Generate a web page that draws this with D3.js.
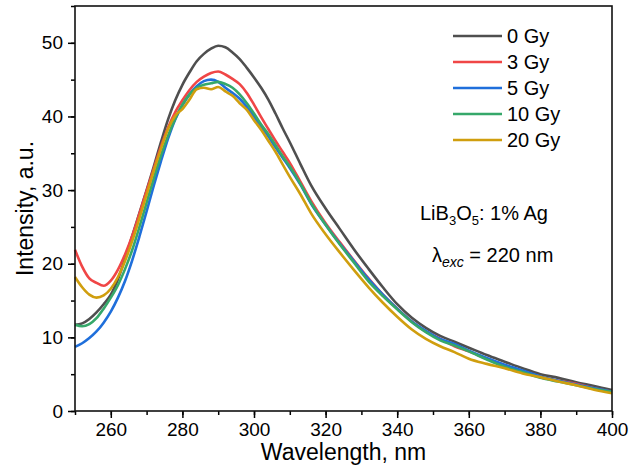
<!DOCTYPE html>
<html lang="en">
<head>
    <meta charset="UTF-8">
    <title>LiB3O5: 1% Ag emission spectra</title>
    <script src="https://d3js.org/d3.v7.min.js"></script>
    <style>
        body { margin: 0; background: #fff; }
        svg text { font-family: "Liberation Sans", Arial, sans-serif; fill: #000; }
    </style>
</head>
<body>
    <div id="chart"></div>
    <script>

// wavelength grid, nm
const wavelengths = [250, 252, 254, 256, 258, 260, 262, 264, 266, 268, 270, 272, 274, 276, 278, 280, 282, 284, 286, 288, 290, 292, 294, 296, 298, 300, 302, 304, 306, 308, 310, 313, 316, 320, 324, 328, 332, 336, 340, 344, 348, 352, 356, 360, 365, 370, 375, 380, 385, 390, 395, 400];

// intensity, a.u.
const gy0  = [11.7, 11.9, 12.5, 13.4, 14.5, 15.8, 17.9, 20.7, 23.8, 26.9, 30.0, 33.2, 36.5, 39.6, 42.2, 44.3, 46.0, 47.5, 48.5, 49.2, 49.6, 49.4, 48.7, 47.8, 46.6, 45.3, 43.9, 42.3, 40.4, 38.4, 36.5, 33.5, 30.6, 27.5, 24.7, 21.9, 19.3, 16.8, 14.5, 12.7, 11.3, 10.2, 9.4, 8.6, 7.6, 6.7, 5.8, 5.0, 4.5, 3.9, 3.4, 2.85];
const gy3  = [21.9, 19.6, 18.0, 17.4, 17.0, 17.7, 19.2, 21.3, 23.8, 26.8, 29.9, 32.9, 35.9, 38.5, 40.6, 42.2, 43.6, 44.7, 45.4, 45.9, 46.1, 45.7, 45.1, 44.4, 43.2, 41.6, 39.9, 38.3, 36.7, 35.2, 33.7, 31.1, 28.5, 25.5, 22.9, 20.4, 18.0, 15.8, 13.9, 12.2, 10.8, 9.8, 8.8, 8.1, 7.1, 6.2, 5.4, 4.6, 4.1, 3.7, 3.1, 2.6];
const gy5  = [8.7, 9.2, 9.9, 10.8, 12.0, 13.5, 15.4, 17.7, 20.5, 23.7, 27.1, 30.6, 33.9, 37.0, 39.6, 41.5, 43.0, 44.1, 44.8, 45.0, 44.7, 43.9, 43.2, 42.4, 41.3, 40.0, 38.6, 37.3, 35.8, 34.4, 33.0, 30.7, 28.1, 25.3, 22.7, 20.3, 17.9, 15.8, 13.9, 12.2, 10.9, 9.8, 9.1, 8.2, 7.2, 6.3, 5.5, 4.7, 4.1, 3.6, 3.1, 2.6];
const gy10 = [11.7, 11.5, 11.8, 12.6, 13.9, 15.4, 17.1, 19.3, 21.9, 25.0, 28.3, 31.6, 34.7, 37.4, 39.7, 41.6, 43.0, 43.9, 44.3, 44.5, 44.7, 44.4, 43.9, 43.0, 41.8, 40.4, 38.9, 37.6, 36.1, 34.6, 33.2, 30.8, 28.2, 25.3, 22.6, 20.1, 17.6, 15.6, 13.8, 12.1, 10.7, 9.6, 8.9, 8.1, 7.0, 6.0, 5.3, 4.5, 4.0, 3.5, 3.0, 2.6];
const gy20 = [18.2, 16.8, 15.8, 15.4, 15.7, 16.6, 18.2, 20.4, 23.1, 26.2, 29.4, 32.6, 35.6, 38.3, 40.1, 41.0, 42.3, 43.7, 43.9, 43.7, 44.0, 43.4, 42.8, 41.8, 40.9, 39.5, 38.2, 36.7, 35.2, 33.5, 31.8, 29.4, 26.8, 24.0, 21.5, 19.1, 16.8, 14.7, 12.8, 11.1, 9.8, 8.8, 8.0, 7.1, 6.4, 5.8, 5.1, 4.6, 4.0, 3.5, 2.9, 2.4];

const seriesNames  = ["0 Gy", "3 Gy", "5 Gy", "10 Gy", "20 Gy"];
const seriesValues = [gy0, gy3, gy5, gy10, gy20];
const seriesColors = ["#4f4f4f", "#f04646", "#1f6fdb", "#36a86a", "#d09e0e"];

const xTicks = [260, 280, 300, 320, 340, 360, 380, 400];
const yTicks = [0, 10, 20, 30, 40, 50];

const width = 629, height = 470;
const margin = { top: 6, right: 17, bottom: 59, left: 75 };

const svg = d3.select("#chart").append("svg")
    .attr("width", width)
    .attr("height", height);

const x = d3.scaleLinear().domain([250, 400]).range([margin.left, width - margin.right]);
const y = d3.scaleLinear().domain([0, 55]).range([height - margin.bottom, margin.top]);

// minor ticks
svg.append("g")
    .attr("transform", `translate(0,${height - margin.bottom})`)
    .call(d3.axisBottom(x).tickValues(d3.range(250, 401, 10)).tickSize(4).tickFormat(""))
    .call(g => g.select(".domain").remove())
    .call(g => g.selectAll("line").attr("stroke-width", 1.5));
svg.append("g")
    .attr("transform", `translate(${margin.left},0)`)
    .call(d3.axisLeft(y).tickValues(d3.range(0, 56, 5)).tickSize(4).tickFormat(""))
    .call(g => g.select(".domain").remove())
    .call(g => g.selectAll("line").attr("stroke-width", 1.5));

// major ticks + labels
svg.append("g")
    .attr("transform", `translate(0,${height - margin.bottom})`)
    .call(d3.axisBottom(x).tickValues(xTicks).tickSize(7).tickPadding(5))
    .call(g => g.select(".domain").remove())
    .call(g => g.selectAll("line").attr("stroke-width", 1.5))
    .call(g => g.selectAll("text").attr("font-size", 19).attr("fill", "#000"));
svg.append("g")
    .attr("transform", `translate(${margin.left},0)`)
    .call(d3.axisLeft(y).tickValues(yTicks).tickSize(7).tickPadding(5))
    .call(g => g.select(".domain").remove())
    .call(g => g.selectAll("line").attr("stroke-width", 1.5))
    .call(g => g.selectAll("text").attr("font-size", 19).attr("fill", "#000"));

// curves
const line = d3.line()
    .x((d, i) => x(wavelengths[i]))
    .y(d => y(d))
    .curve(d3.curveMonotoneX);

svg.append("g")
    .selectAll("path")
    .data(seriesValues)
    .enter().append("path")
    .attr("d", line)
    .attr("fill", "none")
    .attr("stroke", (d, i) => seriesColors[i])
    .attr("stroke-width", 2.6)
    .attr("stroke-linejoin", "round");

// frame
svg.append("rect")
    .attr("x", margin.left)
    .attr("y", margin.top)
    .attr("width", width - margin.left - margin.right)
    .attr("height", height - margin.top - margin.bottom)
    .attr("fill", "none")
    .attr("stroke", "#111")
    .attr("stroke-width", 1.6);

// legend
const legend = svg.append("g");
seriesNames.forEach((name, i) => {
    const ly = 36 + i * 26;
    legend.append("line")
        .attr("x1", 453).attr("x2", 502)
        .attr("y1", ly).attr("y2", ly)
        .attr("stroke", seriesColors[i])
        .attr("stroke-width", 2.6);
    legend.append("text")
        .attr("x", 507).attr("y", ly)
        .attr("dy", "0.35em")
        .attr("font-size", 20)
        .text(name);
});

// annotations
const sample = svg.append("text").attr("x", 420).attr("y", 220).attr("font-size", 20);
sample.append("tspan").text("LiB");
sample.append("tspan").attr("font-size", 13).attr("dy", 5).text("3");
sample.append("tspan").attr("dy", -5).text("O");
sample.append("tspan").attr("font-size", 13).attr("dy", 5).text("5");
sample.append("tspan").attr("dy", -5).text(": 1% Ag");

const exc = svg.append("text").attr("x", 432).attr("y", 262).attr("font-size", 20);
exc.append("tspan").text("λ");
exc.append("tspan").attr("font-size", 14).attr("font-style", "italic").attr("dy", 5).text("exc");
exc.append("tspan").attr("dy", -5).text(" = 220 nm");

// axis titles
svg.append("text")
    .attr("x", (margin.left + width - margin.right) / 2)
    .attr("y", 460)
    .attr("text-anchor", "middle")
    .attr("font-size", 23)
    .text("Wavelength, nm");

svg.append("text")
    .attr("transform", `translate(33,${(margin.top + height - margin.bottom) / 2}) rotate(-90)`)
    .attr("text-anchor", "middle")
    .attr("font-size", 23)
    .text("Intensity, a.u.");

    </script>
</body>
</html>
